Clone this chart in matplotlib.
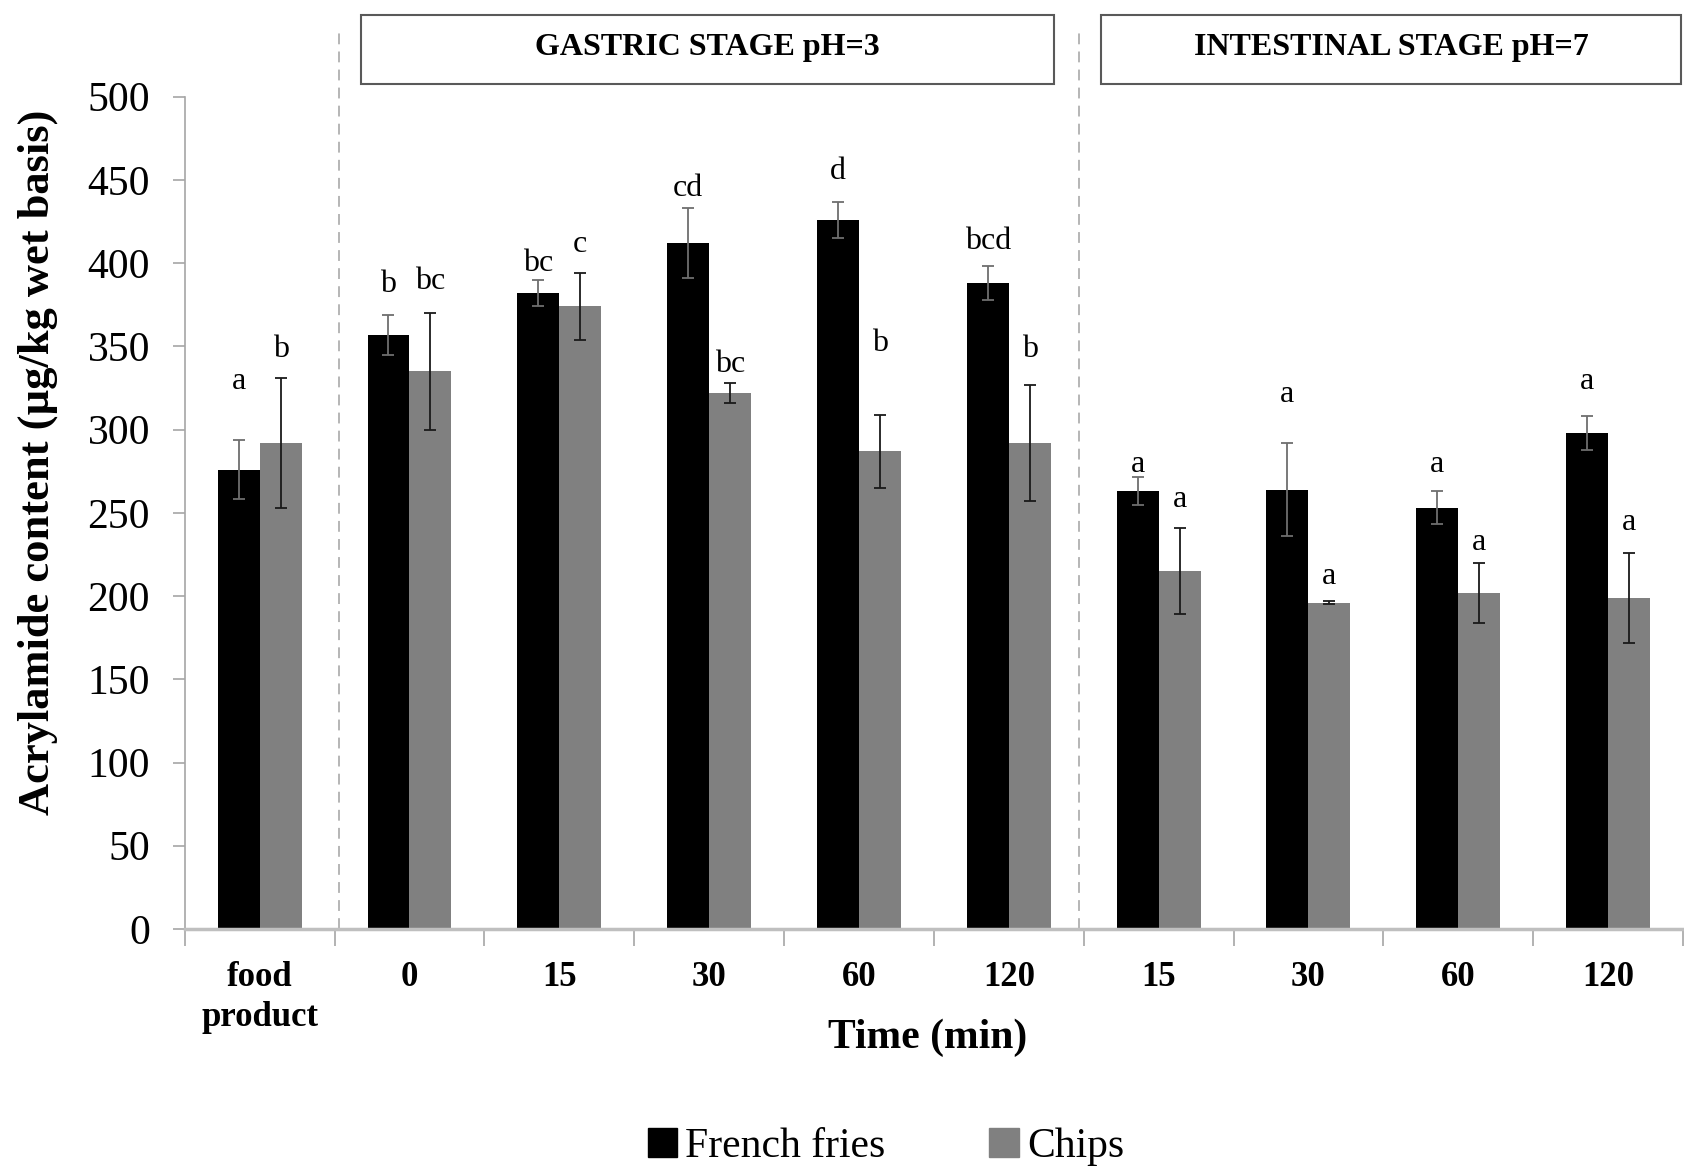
import matplotlib.pyplot as plt
import numpy as np
from matplotlib.patches import Patch, Rectangle

plt.rcParams['font.family'] = ['Liberation Serif', 'DejaVu Serif']

# categories along the x axis
categories = ['food\nproduct', '0', '15', '30', '60', '120', '15', '30', '60', '120']

# acrylamide content (ug/kg wet basis)
french_fries = [276, 357, 382, 412, 426, 388, 263, 264, 253, 298]
french_fries_err = [18, 12, 8, 21, 11, 10, 8.5, 28, 10, 10]
chips = [292, 335, 374, 322, 287, 292, 215, 196, 202, 199]
chips_err = [39, 35, 20, 6, 22, 35, 26, 1, 18, 27]

# significance letters
ff_letters = ['a', 'b', 'bc', 'cd', 'd', 'bcd', 'a', 'a', 'a', 'a']
chips_letters = ['b', 'bc', 'c', 'bc', 'b', 'b', 'a', 'a', 'a', 'a']
# where the letters sit (in y units), placed by hand in the original
ff_letter_y = [329, 387, 400, 445, 455, 413, 279, 321, 279, 329]
chips_letter_y = [348, 389, 411, 339, 352, 348, 258, 212, 232, 244]

stage_titles = ['GASTRIC STAGE pH=3', 'INTESTINAL STAGE pH=7']

fig = plt.figure(figsize=(16.84, 11.70), dpi=100)
ax = fig.add_axes([0.1097, 0.206, 0.8897, 0.7114])

x = np.arange(len(categories))
w = 0.28

ax.bar(x - w / 2, french_fries, w, color='black', label='French fries', zorder=2)
ax.bar(x + w / 2, chips, w, color='#808080', label='Chips', zorder=2)
ax.errorbar(x - w / 2, french_fries, yerr=french_fries_err, fmt='none',
            ecolor='#6e6e6e', elinewidth=1.3, capsize=4, capthick=1.3, zorder=3)
ax.errorbar(x + w / 2, chips, yerr=chips_err, fmt='none',
            ecolor='#1a1a1a', elinewidth=1.3, capsize=4, capthick=1.3, zorder=3)

for i in range(len(categories)):
    ax.text(x[i] - w / 2, ff_letter_y[i], ff_letters[i], ha='center', va='center', fontsize=23)
    ax.text(x[i] + w / 2, chips_letter_y[i], chips_letters[i], ha='center', va='center', fontsize=23)

# dashed separators between stages
for xs in [0.53, 5.47]:
    ax.plot([xs, xs], [0, 539], color='#b0b0b0', lw=1.3, ls=(0, (6, 4)), clip_on=False, zorder=1)

ax.set_xlim(-0.5, 9.5)
ax.set_ylim(0, 500)
ax.set_yticks(np.arange(0, 501, 50))
ax.tick_params(axis='y', labelsize=30, length=9, color='#a6a6a6', width=1.2, pad=16)

ax.set_xticks(np.arange(-0.5, 10, 1))
ax.set_xticklabels([])
ax.set_xticks(x, minor=True)
ax.set_xticklabels(categories, minor=True, fontsize=25, fontweight='bold', linespacing=1.3)
ax.tick_params(axis='x', which='major', length=12, color='#a6a6a6', width=1.2)
ax.tick_params(axis='x', which='minor', length=0, pad=23)

for s in ['top', 'right']:
    ax.spines[s].set_visible(False)
ax.spines['left'].set_color('#a6a6a6')
ax.spines['left'].set_linewidth(1.2)
ax.spines['bottom'].set_color('#bfbfbf')
ax.spines['bottom'].set_linewidth(2.5)

fig.text(0.0226, 0.605, 'Acrylamide content (µg/kg wet basis)', rotation=90,
         ha='center', va='center', fontsize=32, fontweight='bold')
fig.text(0.551, 1 - 1038 / 1170, 'Time (min)', ha='center', va='center',
         fontsize=30, fontweight='bold')

# stage header boxes
boxes = [(361, 1054), (1101, 1681)]
for (x0, x1), title in zip(boxes, stage_titles):
    fig.add_artist(Rectangle((x0 / 1684, 1 - 84 / 1170), (x1 - x0) / 1684, 69 / 1170,
                             transform=fig.transFigure, fill=False, ec='#595959', lw=1.5))
    fig.text((x0 + x1) / 2 / 1684, 1 - 48 / 1170, title, ha='center', va='center',
             fontsize=23, fontweight='bold')

handles = [Patch(color='black'), Patch(color='#808080')]
fig.legend(handles, ['French fries', 'Chips'], loc='center', bbox_to_anchor=(0.526, 0.02),
           ncol=2, frameon=False, fontsize=30, handlelength=0.7, handleheight=0.7,
           handletextpad=0.2, columnspacing=2.5)

fig.savefig('out.png', dpi=100)
